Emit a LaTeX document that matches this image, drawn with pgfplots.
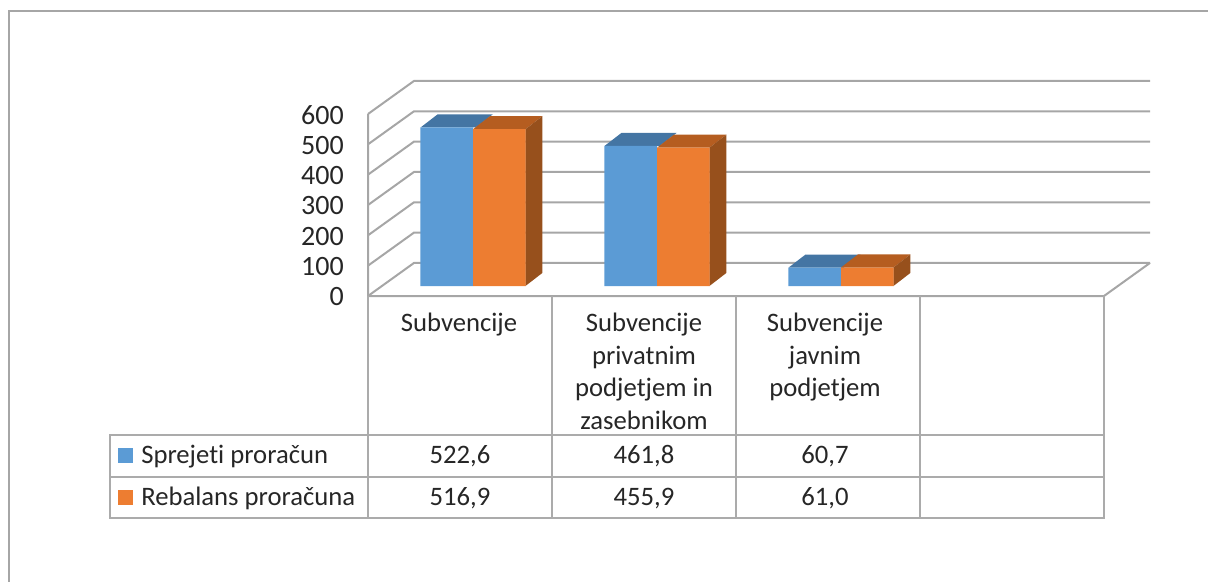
\documentclass[border=0pt]{standalone}
\usepackage{fontspec}
\setmainfont[Ligatures=NoCommon]{Carlito}
\usepackage{pgfplots}
\usepackage{pgfplotstable}
\pgfplotsset{compat=1.18}
\definecolor{blueF}{HTML}{5B9BD5}
\definecolor{blueT}{HTML}{4475A3}
\definecolor{oranF}{HTML}{ED7D31}
\definecolor{oranT}{HTML}{B55D20}
\definecolor{oranS}{HTML}{97501C}
\definecolor{gridc}{HTML}{A6A6A6}
\definecolor{tabc}{HTML}{ABABAB}
\definecolor{textc}{HTML}{262626}
\newcommand{\chartfont}{\fontsize{20}{24.4}\selectfont}
\newcommand{\tickfont}{\fontsize{21}{24}\selectfont}
% sprejeti / rebalans
\pgfplotstableread{
x a b
0.5 522.6 516.9
1.5 461.8 455.9
2.5 60.7 61.0
}\budget
\begin{document}
\begin{tikzpicture}
\useasboundingbox (0,0) rectangle (906pt,-436.5pt);
% walls and floor, 1 px = 0.75 pt
\begin{axis}[
  at={(276pt,-222pt)}, anchor=origin,
  scale only axis, width=552pt, height=136.5pt,
  xmin=0, xmax=4, ymin=0, ymax=600, clip=false,
  axis line style={draw=none}, xtick=\empty,
  ytick={0,100,...,600}, major tick length=0pt,
  yticklabel style={font=\tickfont, text=textc, inner sep=0pt, xshift=-18pt, yshift=-0.75pt,
    /pgf/number format/assume math mode=true},
  no markers]
\addplot[gridc, line width=1.5pt] coordinates {(0,0) (0.25,109) (4.25,109)};
\addplot[gridc, line width=1.5pt] coordinates {(0,100) (0.25,209) (4.25,209)};
\addplot[gridc, line width=1.5pt] coordinates {(0,200) (0.25,309) (4.25,309)};
\addplot[gridc, line width=1.5pt] coordinates {(0,300) (0.25,409) (4.25,409)};
\addplot[gridc, line width=1.5pt] coordinates {(0,400) (0.25,509) (4.25,509)};
\addplot[gridc, line width=1.5pt] coordinates {(0,500) (0.25,609) (4.25,609)};
\addplot[gridc, line width=1.5pt] coordinates {(0,600) (0.25,709) (4.25,709)};
\addplot[gridc, line width=1.5pt] coordinates {(0,600) (0,0) (4,0) (4.25,109)};
\end{axis}
% bars
\begin{axis}[
  at={(285.75pt,-214.5pt)}, anchor=origin,
  scale only axis, width=552pt, height=136.5pt,
  xmin=0, xmax=4, ymin=0, ymax=600, clip=false,
  hide axis, no markers]
\addplot[fill=blueT, draw=none] coordinates {(0.215,522.6) (0.515,522.6) (0.607,565.6) (0.307,565.6)} --cycle;
\addplot[fill=oranT, draw=none] coordinates {(0.5,516.9) (0.785,516.9) (0.877,559.9) (0.592,559.9)} --cycle;
\addplot[fill=oranS, draw=none] coordinates {(0.785,0) (0.877,43) (0.877,559.9) (0.785,516.9)} --cycle;
\addplot[fill=blueT, draw=none] coordinates {(1.215,461.8) (1.515,461.8) (1.607,504.8) (1.307,504.8)} --cycle;
\addplot[fill=oranT, draw=none] coordinates {(1.5,455.9) (1.785,455.9) (1.877,498.9) (1.592,498.9)} --cycle;
\addplot[fill=oranS, draw=none] coordinates {(1.785,0) (1.877,43) (1.877,498.9) (1.785,455.9)} --cycle;
\addplot[fill=blueT, draw=none] coordinates {(2.215,60.7) (2.515,60.7) (2.607,103.7) (2.307,103.7)} --cycle;
\addplot[fill=oranT, draw=none] coordinates {(2.5,61.0) (2.785,61.0) (2.877,104.0) (2.592,104.0)} --cycle;
\addplot[fill=oranS, draw=none] coordinates {(2.785,0) (2.877,43) (2.877,104.0) (2.785,61.0)} --cycle;
\addplot[ybar, bar width=39.4pt, bar shift=-19.7pt, fill=blueF, draw=none] table[x=x, y=a] {\budget};
\addplot[ybar, bar width=39.4pt, bar shift=19.7pt, fill=oranF, draw=none] table[x=x, y=b] {\budget};
\end{axis}
% data table and outer frame
\begin{scope}[x=0.75pt, y=-0.75pt]
\draw[gridc, line width=1.2pt] (1208,11) -- (9,11) -- (9,582);
\draw[tabc, line width=0.9pt]
  (110,435) rectangle (1104,518)
  (110,477) -- (1104,477)
  (368,296) -- (368,518)
  (552,296) -- (552,518)
  (736,296) -- (736,518)
  (920,296) -- (920,518)
  (1104,296) -- (1104,435)
  (368,435) -- (1104,435);
\fill[blueF] (118,448) rectangle (133,463);
\fill[oranF] (118,490) rectangle (133,505);
\tikzset{every node/.style={font=\chartfont, text=textc, inner sep=0pt}}
\node[anchor=base west] at (141,463) {Sprejeti proračun};
\node[anchor=base west] at (141,505) {Rebalans proračuna};
\node[anchor=north, align=center] at (459,313) {Subvencije};
\node[anchor=north, align=center] at (644,313) {Subvencije\\privatnim\\podjetjem in\\zasebnikom};
\node[anchor=north, align=center] at (825,313) {Subvencije\\javnim\\podjetjem};
\node[anchor=base] at (460,463) {522,6};
\node[anchor=base] at (644,463) {461,8};
\node[anchor=base] at (825,463) {60,7};
\node[anchor=base] at (460,505) {516,9};
\node[anchor=base] at (644,505) {455,9};
\node[anchor=base] at (825,505) {61,0};
\end{scope}
\end{tikzpicture}
\end{document}
